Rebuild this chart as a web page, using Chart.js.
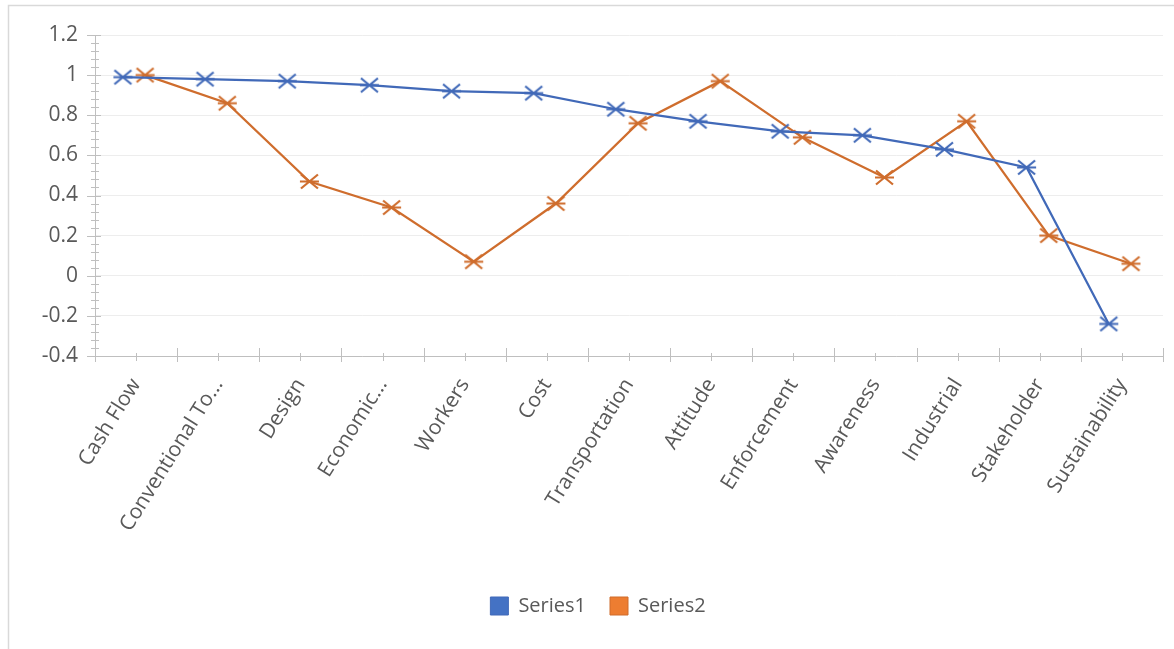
<!DOCTYPE html>
<html>
<head>
<meta charset="utf-8">
<script src="https://cdn.jsdelivr.net/npm/chart.js@4.4.1/dist/chart.umd.min.js"></script>
<style>
  html, body { margin: 0; padding: 0; background: #ffffff; }
  #wrap { position: relative; width: 1174px; height: 649px; }
</style>
</head>
<body>
<div id="wrap"><canvas id="c" width="1174" height="649"></canvas></div>
<script>
// Categories along the x axis
const categories = [
  'Cash Flow', 'Conventional To...', 'Design', 'Economic...', 'Workers', 'Cost',
  'Transportation', 'Attitude', 'Enforcement', 'Awareness', 'Industrial',
  'Stakeholder', 'Sustainability'
];
// Series values
const series1 = [0.99, 0.98, 0.97, 0.95, 0.92, 0.91, 0.83, 0.77, 0.72, 0.70, 0.63, 0.54, -0.24];
const series2 = [1.00, 0.86, 0.47, 0.34, 0.07, 0.36, 0.76, 0.97, 0.69, 0.49, 0.77, 0.20, 0.06];
const seriesNames = ['Series1', 'Series2'];
// Value axis tick labels
const yTicks = [-0.4, -0.2, 0, 0.2, 0.4, 0.6, 0.8, 1, 1.2];

// Styling
const lineColors = ['#4169B8', '#CF6D2D'];
const legendColors = ['#4472C4', '#ED7D31'];
const seriesShift = [-0.16, 0.11];   // horizontal placement of each series inside its category
const FONT = "'Open Sans', 'Liberation Sans', sans-serif";
const TEXT = '#595959';
const AXIS = '#BFBFBF';

// "X with a bar" marker drawn once per colour
function makeMarker(color) {
  const w = 21, h = 17;
  const c = document.createElement('canvas');
  c.width = w; c.height = h;
  const g = c.getContext('2d');
  g.strokeStyle = color;
  g.lineWidth = 2.2;
  g.beginPath();
  g.moveTo(2, 1.5); g.lineTo(19, 15.5);
  g.moveTo(2, 15.5); g.lineTo(19, 1.5);
  g.moveTo(1, 8.5); g.lineTo(20, 8.5);
  g.stroke();
  return c;
}

function toPoints(values, shift) {
  return values.map((v, i) => ({ x: i + shift, y: v }));
}

// Frame round the chart and white background
const frame = {
  id: 'frame',
  beforeDraw(chart) {
    const ctx = chart.ctx;
    ctx.save();
    ctx.fillStyle = '#ffffff';
    ctx.fillRect(0, 0, chart.width, chart.height);
    ctx.strokeStyle = '#D9D9D9';
    ctx.lineWidth = 1.5;
    ctx.beginPath();
    ctx.moveTo(8.5, chart.height);
    ctx.lineTo(8.5, 5.5);
    ctx.lineTo(chart.width, 5.5);
    ctx.stroke();
    ctx.restore();
  }
};

// Major / minor tick marks crossing both axes
const axisTicks = {
  id: 'axisTicks',
  afterDraw(chart) {
    const { ctx, chartArea } = chart;
    const xs = chart.scales.x, ys = chart.scales.y;
    ctx.save();
    ctx.strokeStyle = AXIS;
    ctx.lineWidth = 1;
    ctx.beginPath();
    // value axis: minor step = fifth of the label step
    const yMin = yTicks[0], yStep = yTicks[1] - yTicks[0];
    const nY = (yTicks.length - 1) * 5;
    for (let k = 0; k <= nY; k++) {
      const py = Math.round(ys.getPixelForValue(yMin + k * yStep / 5)) + 0.5;
      const major = k % 5 === 0;
      const x0 = chartArea.left;
      ctx.moveTo(x0 - (major ? 8 : 4), py);
      ctx.lineTo(x0 + (major ? 6 : 4), py);
    }
    // category axis: major at category boundaries, minor at centres
    for (let k = 0; k <= categories.length * 2; k++) {
      const v = -0.5 + k * 0.5;
      const px = Math.round(xs.getPixelForValue(v)) + 0.5;
      const major = k % 2 === 0;
      const y0 = chartArea.bottom;
      ctx.moveTo(px, y0 - (major ? 8 : 3));
      ctx.lineTo(px, y0 + (major ? 6 : 5));
    }
    ctx.stroke();
    ctx.restore();
  }
};

const chart = new Chart(document.getElementById('c'), {
  type: 'line',
  data: {
    datasets: [series1, series2].map((vals, s) => ({
      label: seriesNames[s],
      data: toPoints(vals, seriesShift[s]),
      borderColor: lineColors[s],
      backgroundColor: legendColors[s],
      borderWidth: 2.25,
      pointStyle: makeMarker(lineColors[s]),
      pointRadius: 8,
      tension: 0,
      fill: false
    }))
  },
  options: {
    responsive: false,
    animation: false,
    events: [],
    layout: { padding: { left: 33, right: 11, top: 35, bottom: 23 } },
    plugins: {
      tooltip: { enabled: false },
      legend: {
        position: 'bottom',
        labels: {
          boxWidth: 18,
          boxHeight: 18,
          padding: 24,
          color: TEXT,
          font: { family: FONT, size: 20 },
          generateLabels(chart) {
            return chart.data.datasets.map((ds, i) => ({
              text: ds.label,
              fillStyle: legendColors[i],
              strokeStyle: lineColors[i],
              lineWidth: 1,
              fontColor: TEXT,
              hidden: false,
              datasetIndex: i
            }));
          }
        }
      }
    },
    scales: {
      x: {
        type: 'linear',
        min: -0.5,
        max: categories.length - 0.5,
        afterBuildTicks(scale) {
          scale.ticks = categories.map((_, i) => ({ value: i }));
        },
        afterFit(scale) { scale.height = 216; },
        grid: { display: false, drawTicks: false },
        border: { display: true, color: AXIS, width: 1 },
        ticks: {
          autoSkip: false,
          minRotation: 58,
          maxRotation: 58,
          padding: 18,
          color: TEXT,
          font: { family: FONT, size: 21 },
          callback: (v) => categories[v]
        }
      },
      y: {
        min: yTicks[0],
        max: yTicks[yTicks.length - 1],
        afterBuildTicks(scale) {
          scale.ticks = yTicks.map(v => ({ value: v }));
        },
        afterFit(scale) { scale.width = 62; },
        grid: { color: '#EDEDED', lineWidth: 1, drawTicks: false },
        border: { display: true, color: AXIS, width: 1 },
        ticks: {
          padding: 17,
          color: TEXT,
          font: { family: FONT, size: 21 },
          callback: (v) => String(Math.round(v * 10) / 10)
        }
      }
    }
  },
  plugins: [frame, axisTicks]
});
</script>
</body>
</html>
